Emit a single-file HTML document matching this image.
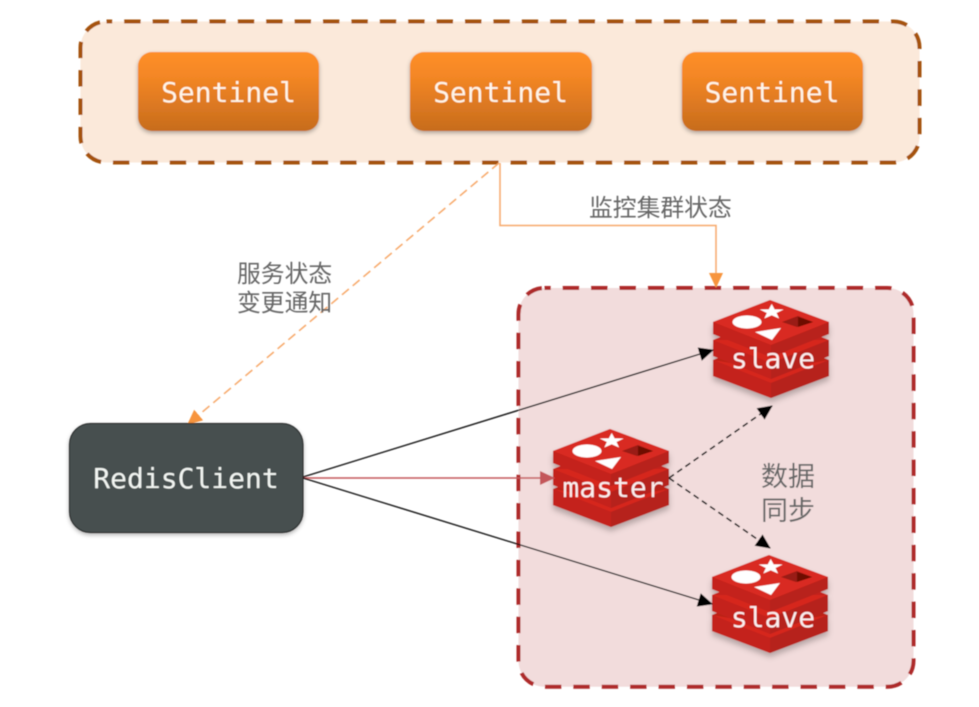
<!DOCTYPE html>
<html><head><meta charset="utf-8">
<style>
html,body{margin:0;padding:0;background:#fff;width:979px;height:707px;overflow:hidden}
svg{display:block}
.m{font-family:"DejaVu Sans Mono","Liberation Mono",monospace;font-size:28px;text-anchor:middle}
.c{font-family:"Liberation Sans","Noto Sans CJK SC",sans-serif;fill:#666}
</style></head><body>
<svg width="979" height="707" viewBox="0 0 979 707" xmlns="http://www.w3.org/2000/svg">
<defs>
<linearGradient id="g" x1="0" y1="0" x2="0" y2="1">
<stop offset="0" stop-color="#fe8f29"/><stop offset="0.3" stop-color="#f48725"/><stop offset="1" stop-color="#c76c1d"/>
</linearGradient>
<filter id="s" x="-10%" y="-10%" width="120%" height="130%"><feDropShadow dx="0" dy="2" stdDeviation="2" flood-color="#000" flood-opacity="0.3"/></filter>
<filter id="ls" x="-10%" y="-10%" width="120%" height="130%"><feDropShadow dx="0" dy="4" stdDeviation="3" flood-color="#000" flood-opacity="0.25"/></filter>
<filter id="b" x="-5%" y="-5%" width="110%" height="110%"><feGaussianBlur stdDeviation="0.45"/></filter>
<marker id="ab" markerWidth="15" markerHeight="14" refX="14" refY="7" orient="auto" markerUnits="userSpaceOnUse"><path d="M0,0L15,7L0,14z" fill="#000"/></marker>
<marker id="ar" markerWidth="15" markerHeight="14" refX="14" refY="7" orient="auto" markerUnits="userSpaceOnUse"><path d="M0,0L15,7L0,14z" fill="#c4565a"/></marker>
<marker id="ao" markerWidth="15" markerHeight="14" refX="14" refY="7" orient="auto" markerUnits="userSpaceOnUse"><path d="M0,0L15,7L0,14z" fill="#f7943e"/></marker>
<g id="logo">
<path d="M0,60 L57,37 L116,60 L116,76 L58,98 L0,76z" fill="#bb2119"/>
<path d="M0,60 L58,83 L116,60 L58,70z" fill="#d6271e"/>
<path d="M0,76 L0,60 L58,83 L58,98z" fill="#c4241b"/>
<path d="M116,76 L116,60 L58,83 L58,98z" fill="#b6201a"/>
<path d="M0,40 L57,17 L116,40 L116,56 L58,79 L0,56z" fill="#c4241b"/>
<path d="M0,40 L58,63 L116,40 L58,40z" fill="#d6271e"/>
<path d="M116,56 L116,40 L58,63 L58,79z" fill="#b6201a"/>
<path d="M0,22 L57,0 L116,22 L116,34 L58,57 L0,34z" fill="#b8211a"/>
<path d="M0,34 L0,22 L58,45 L58,57z" fill="#c4241b"/>
<path d="M0,22 L57,0 L116,22 L58,45z" fill="#d92a20"/>
<ellipse cx="34" cy="22" rx="14.500" ry="6.500" fill="#fff"/>
<path d="M58.700,4L61.600,9.400L70.600,9.500L63.500,13L66.100,18.500L58.700,15.200L51.300,18.500L53.900,13L46.800,9.500L55.800,9.400z" fill="#fff"/>
<path d="M42,32L68,28L59,40z" fill="#fff"/>
<path d="M69,22L85,16L100,22L84,27z" fill="#991a12"/>
<path d="M85,17L100,22L85,27z" fill="#6e0c04"/>
</g>
</defs>
<g filter="url(#b)">
<rect x="80.500" y="21.500" width="839" height="141" rx="26" fill="#fbe9da" stroke="#a5530f" stroke-width="4" stroke-dasharray="16.400 12" stroke-dashoffset="10.700"/>
<rect x="518.500" y="288" width="395" height="398.700" rx="26" fill="#f2dcdc" stroke="#ae2a2a" stroke-width="4" stroke-dasharray="16.400 12" stroke-dashoffset="10.200"/>

<rect x="138" y="52" width="181" height="79" rx="14" fill="url(#g)" filter="url(#s)"/>
<rect x="410" y="52" width="182" height="79" rx="14" fill="url(#g)" filter="url(#s)"/>
<rect x="682" y="52" width="181" height="79" rx="14" fill="url(#g)" filter="url(#s)"/>
<text class="m" x="228.500" y="102" fill="#fff5e8">Sentinel</text>
<text class="m" x="500.500" y="102" fill="#fff5e8">Sentinel</text>
<text class="m" x="772" y="102" fill="#fff5e8">Sentinel</text>

<path d="M500,163V225.500H716V287" fill="none" stroke="#f7a869" stroke-width="1.500" marker-end="url(#ao)"/>
<path d="M499,163L188,424" fill="none" stroke="#f7a869" stroke-width="1.500" stroke-dasharray="9 5" marker-end="url(#ao)"/>

<text class="c" x="589" y="216" font-size="23.800">监控集群状态</text>
<text class="c" x="237" y="282" font-size="23.800">服务状态</text>
<text class="c" x="237" y="311" font-size="23.800">变更通知</text>
<text class="c" x="761" y="486" font-size="27">数据</text>
<text class="c" x="761" y="520" font-size="27">同步</text>

<rect x="69.500" y="423.500" width="233.500" height="109" rx="21" fill="#465050" stroke="#222" stroke-width="1" filter="url(#s)"/>
<text class="m" x="186" y="488" fill="#f2f5f2">RedisClient</text>

<use href="#logo" x="713" y="300" filter="url(#ls)"/>
<use href="#logo" x="553" y="429" filter="url(#ls)"/>
<use href="#logo" x="712" y="555" filter="url(#ls)"/>

<path d="M303,477L713,350" stroke="#111" stroke-width="1.400" fill="none" marker-end="url(#ab)"/>
<path d="M303,478L554,478" stroke="#c4565a" stroke-width="1.400" fill="none" marker-end="url(#ar)"/>
<path d="M303,478L712,604" stroke="#111" stroke-width="1.400" fill="none" marker-end="url(#ab)"/>
<path d="M669,478L772,406" stroke="#111" stroke-width="1.600" stroke-dasharray="6 4" fill="none" marker-end="url(#ab)"/>
<path d="M669,478L770,548" stroke="#111" stroke-width="1.600" stroke-dasharray="6 4" fill="none" marker-end="url(#ab)"/>

<text class="m" x="773" y="368" fill="#fbeeee">slave</text>
<text class="m" x="613" y="497" fill="#fbeeee">master</text>
<text class="m" x="773" y="627" fill="#fbeeee">slave</text>
</g>
</svg>
</body></html>
